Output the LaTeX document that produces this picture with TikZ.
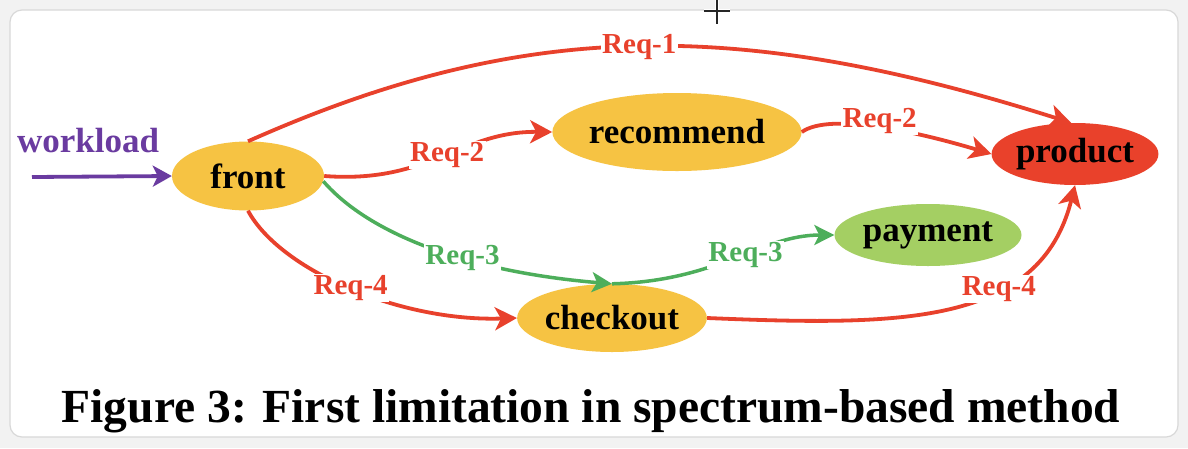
\documentclass[tikz,border=0pt]{standalone}
\usepackage{fontspec}
\setmainfont{Liberation Serif}
\usetikzlibrary{shapes.geometric,arrows.meta}
\definecolor{svcyellow}{HTML}{F6C343}
\definecolor{svcred}{HTML}{E9412B}
\definecolor{svcgreen}{HTML}{A4CF63}
\definecolor{redl}{HTML}{E8412C}
\definecolor{greenl}{HTML}{4DAE5B}
\definecolor{purp}{HTML}{6A3BA0}
\definecolor{bgc}{HTML}{F2F2F2}
\definecolor{cardline}{HTML}{D8D8D8}
\begin{document}
\begin{tikzpicture}[x=1pt,y=-1pt,
  svc/.style={ellipse, inner sep=0pt, font=\fontsize{35}{40}\selectfont\bfseries, text=black},
  lbl/.style={font=\fontsize{29}{32}\selectfont\bfseries, fill=white, inner sep=1.5pt},
  redlbl/.style={lbl, text=redl},
  greenlbl/.style={lbl, text=greenl},
  redarr/.style={draw=redl, line width=3.8pt, -{Stealth[length=22pt,width=23pt,inset=6pt]}},
  greenarr/.style={draw=greenl, line width=3.5pt, -{Stealth[length=20pt,width=20pt,inset=5pt]}},
  purparr/.style={draw=purp, line width=3.8pt, -{Stealth[length=19pt,width=21pt,inset=5pt]}}]
\useasboundingbox (0,0) rectangle (1188,448);
\fill[bgc] (0,0) rectangle (1188,448);
\fill[white, draw=cardline, line width=1.2pt, rounded corners=12pt] (10,10) rectangle (1178,437);
% cursor
\draw[white, line width=3.2pt] (704,11) -- (730,11) (717,0) -- (717,24);
\draw[black!85, line width=1.4pt] (704,11) -- (730,11) (717,0) -- (717,24);

% nodes
\node[svc, fill=svcyellow, minimum width=152pt, minimum height=69pt] (front) at (248,176) {front};
\node[svc, fill=svcyellow, minimum width=206pt, minimum height=78pt] (recommend) at (677,132) {recommend};
\node[svc, fill=svcred, minimum width=164pt, minimum height=62pt] (product) at (1075,154) {product};
\node[svc, fill=svcgreen, minimum width=187pt, minimum height=62pt] (payment) at (928,235) {payment};
\node[svc, fill=svcyellow, minimum width=179pt, minimum height=68pt] (checkout) at (612,318) {checkout};

\node[font=\fontsize{35}{40}\selectfont\bfseries, text=purp] (workload) at (88,141) {workload};
\coordinate (wstart) at (32,177);
\draw[purparr] (wstart) -- (front.west);

% Req-1
\draw[redarr] (front.north) .. controls (525,18) and (740,18) .. node[redlbl, pos=0.5] {Req-1} (product.97);
% Req-2
\draw[redarr] (front.east) .. controls (430,184) and (460,131) .. node[redlbl, pos=0.52] {Req-2} (recommend.west);
\draw[redarr] (recommend.east) .. controls (830,112) and (918,132) .. node[redlbl, pos=0.5, yshift=6pt] {Req-2} (product.west);
% Req-3
\draw[greenarr] (front.-4) .. controls (370,235) and (470,272) .. node[greenlbl, pos=0.6] {Req-3} (checkout.north);
\draw[greenarr] (checkout.north) .. controls (720,281) and (760,235) .. node[greenlbl, pos=0.55] {Req-3} (payment.west);
% Req-4
\draw[redarr] (front.south) .. controls (280,270) and (400,322) .. node[redlbl, pos=0.5] {Req-4} (checkout.west);
\draw[redarr] (checkout.east) .. controls (900,326) and (1040,326) .. node[redlbl, pos=0.64] {Req-4} (product.south);

% caption
\node[font=\fontsize{47.5}{52}\selectfont\bfseries, anchor=base] (caption) at (591,422) {Figure 3: First limitation in spectrum-based method};
\end{tikzpicture}
\end{document}
